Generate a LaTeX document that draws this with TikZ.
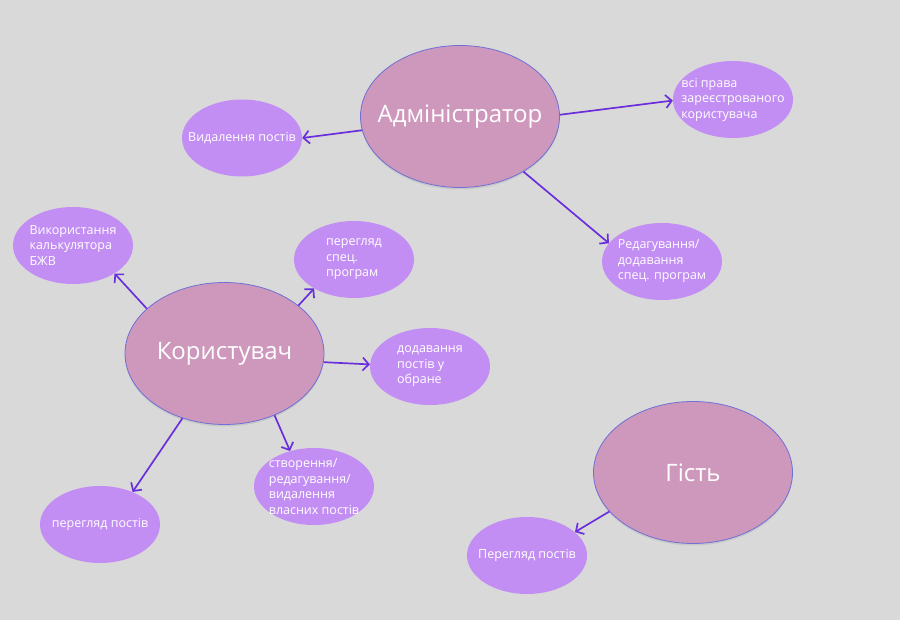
\documentclass[tikz,border=0pt]{standalone}
\usepackage{fontspec}
\setmainfont{Open Sans}
\usetikzlibrary{shapes.geometric,arrows.meta,shadows}
\definecolor{bgcol}{HTML}{D9D9D9}
\definecolor{rolecol}{HTML}{CE98BC}
\definecolor{roleline}{HTML}{6F6FD6}
\definecolor{actcol}{HTML}{C38EF4}
\definecolor{arrcol}{HTML}{6A2EDC}
\begin{document}
\begin{tikzpicture}[x=1pt, y=-1pt,
		role/.style={ellipse, fill=rolecol, draw=roleline, line width=0.8pt, minimum width=199pt, minimum height=142pt, inner sep=0pt, drop shadow={opacity=0.18, shadow xshift=0pt, shadow yshift=-2pt}, label={[text=white, font=\fontsize{24}{28}\selectfont]center:#1}},
		act/.style={ellipse, fill=actcol, minimum width=120pt, minimum height=77pt, inner sep=0pt, label={[text=white, align=left, font=\fontsize{12.5}{15.5}\selectfont]center:#1}},
		link/.style={-{Straight Barb[length=6pt, width=13pt, line width=1.7pt]}, arrcol, line width=1.7pt}]
		\fill[bgcol] (0, 0) rectangle (900, 620);

		\node[role={Адміністратор}] (admin) at (460, 116.5) {};
		\node[role={Користувач}] (user) at (224.5, 353.5) {};
		\node[role={Гість}] (guest) at (693, 472.5) {};

		\node[act={Видалення постів}] (delposts) at (242, 138) {};
		\node[act={всі права\\зареєстрованого\\користувача}] (allrights) at (733, 99.5) {};
		\node[act={Редагування/\\додавання\\спец. програм}] (editprog) at (662, 261.5) {};

		\node[act={Використання\\калькулятора\\БЖВ}] (calc) at (73, 245.5) {};
		\node[act={перегляд\\спец.\\програм}] (viewprog) at (354, 259.5) {};
		\node[act={додавання\\постів у\\обране}] (favs) at (430, 366.5) {};
		\node[act={створення/\\редагування/\\видалення\\власних постів}] (ownposts) at (314, 486.5) {};
		\node[act={перегляд постів}] (viewposts) at (100, 524.5) {};

		\node[act={Перегляд постів}] (guestview) at (527, 555.5) {};

		\draw[link] (admin.188) -- (delposts.0);
		\draw[link] (admin.1) -- (allrights.181);
		\draw[link] (admin.-41) -- (editprog.161);

		\draw[link] (user.150) -- (calc.-34);
		\draw[link] (user.33) -- (viewprog.216);
		\draw[link] (user.-5) -- (favs.178);
		\draw[link] (user.-51) -- (ownposts.124);
		\draw[link] (user.-123) -- (viewposts.45);

		\draw[link] (guest.205) -- (guestview.26);
	\end{tikzpicture}
\end{document}
